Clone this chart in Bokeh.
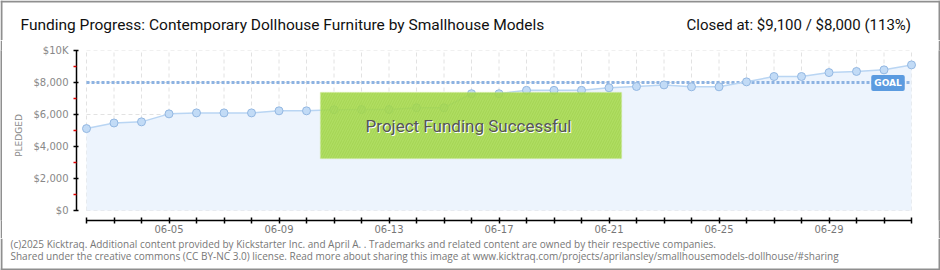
from math import pi
from bokeh.plotting import figure
from bokeh.layouts import column, row
from bokeh.models import Range1d, FixedTicker, Label, BoxAnnotation
from bokeh.embed import file_html
from bokeh.resources import INLINE

# ---------------- data ----------------
dates = ["06-02", "06-03", "06-04", "06-05", "06-06", "06-07", "06-08", "06-09",
         "06-10", "06-11", "06-12", "06-13", "06-14", "06-15", "06-16", "06-17",
         "06-18", "06-19", "06-20", "06-21", "06-22", "06-23", "06-24", "06-25",
         "06-26", "06-27", "06-28", "06-29", "06-30", "07-01", "07-02"]
pledged = [5120, 5470, 5540, 6040, 6100, 6100, 6100, 6230,
           6230, 6300, 6310, 6310, 6420, 6420, 7300, 7300,
           7510, 7510, 7510, 7670, 7750, 7850, 7730, 7730,
           8040, 8375, 8375, 8620, 8690, 8790, 9100]
goal = 8000
labeled_dates = ["06-05", "06-09", "06-13", "06-17", "06-21", "06-25", "06-29"]
y_ticks = [0, 2000, 4000, 6000, 8000, 10000]
y_minor_ticks = [1000, 3000, 5000, 7000, 9000]
y_tick_labels = ["$0", "$2,000", "$4,000", "$6,000", "$8,000", "$10K"]

title_text = "Funding Progress: Contemporary Dollhouse Furniture by Smallhouse Models"
closed_text = "Closed at:  $9,100 /  $8,000 (113%)"
footer1 = "(c)2025 Kicktraq. Additional content provided by Kickstarter Inc. and  April A. . Trademarks and related content are owned by their respective companies."
footer2 = "Shared under the creative commons (CC BY-NC 3.0) license. Read more about sharing this image at www.kicktraq.com/projects/aprilansley/smallhousemodels-dollhouse/#sharing"

BORDER = "#8f8f8f"
W, H = 940, 270
HEAD_H, MAIN_H = 40, 198
FOOT_H = H - HEAD_H - MAIN_H
PAD = 2

# ---------------- main chart helpers ----------------
x = list(range(len(dates)))
PX0, DX = 86.0, 27.5      # page pixel of first day, pixels per day
PY0, SY = 210.0, 0.016    # page pixel of $0, pixels per dollar


def dx(px):
    return (px - PX0) / DX


def dy(py):
    return (PY0 - py) / SY


def strip(w, h, y_top):
    """A figure whose frame is the whole canvas, in page pixel coordinates."""
    f = figure(width=w, height=h, output_backend="svg", toolbar_location=None,
               x_range=Range1d(0, w), y_range=Range1d(y_top + h, y_top),
               min_border=0, x_axis_type=None, y_axis_type=None, title=None)
    f.outline_line_color = None
    f.background_fill_color = "white"
    f.border_fill_color = "white"
    return f


# ---------------- header ----------------
head = strip(W, HEAD_H, 0)
head.segment(x0=[0, 1, W - 1], y0=[1, 0, 0], x1=[W, 1, W - 1], y1=[1, HEAD_H, HEAD_H],
             line_color=BORDER, line_width=2)
head.add_layout(Label(x=20, y=24, text=title_text, text_align="left",
                      text_baseline="middle", text_color="#111111", text_font="Roboto",
                      text_font_size="15.5px"))
head.add_layout(Label(x=918, y=24, text=closed_text, text_align="right",
                      text_baseline="middle", text_color="#111111", text_font="Roboto",
                      text_font_size="15px"))

# ---------------- footer ----------------
top_f = HEAD_H + MAIN_H
foot = strip(W, FOOT_H, top_f)
foot.segment(x0=[0, 1, W - 1], y0=[H - 1, top_f, top_f], x1=[W, 1, W - 1],
             y1=[H - 1, H, H], line_color=BORDER, line_width=2)
foot.add_layout(Label(x=10, y=243.5, text=footer1, text_align="left",
                      text_baseline="middle", text_color="#777777", text_font="Open Sans",
                      text_font_size="10px"))
foot.add_layout(Label(x=10, y=255.5, text=footer2, text_align="left",
                      text_baseline="middle", text_color="#777777", text_font="Open Sans",
                      text_font_size="10px"))


# ---------------- side pads (border) ----------------
def pad():
    f = figure(width=PAD, height=MAIN_H, output_backend="svg", toolbar_location=None,
               min_border=0, x_axis_type=None, y_axis_type=None, title=None)
    f.outline_line_color = None
    f.background_fill_color = BORDER
    f.border_fill_color = BORDER
    return f


# ---------------- main chart ----------------
p = figure(width=W - 2 * PAD, height=MAIN_H, output_backend="svg",
           toolbar_location=None, title=None,
           x_range=Range1d(dx(76), dx(918)), y_range=Range1d(dy(220), dy(50)),
           min_border_left=76 - PAD, min_border_right=W - 918 - PAD,
           min_border_top=50 - HEAD_H, min_border_bottom=HEAD_H + MAIN_H - 220)
p.outline_line_color = None
p.xgrid.visible = False
p.ygrid.visible = False
p.background_fill_color = "white"
p.border_fill_color = "white"

n = len(x)
p.segment(x0=x, y0=[y_ticks[0]] * n, x1=x, y1=[y_ticks[-1]] * n,
          line_color="#e2e2e2", line_width=1, line_dash="4 3")
p.segment(x0=[x[0]] * len(y_ticks), y0=y_ticks, x1=[x[-1]] * len(y_ticks), y1=y_ticks,
          line_color="#e2e2e2", line_width=1, line_dash="4 3")

p.varea(x=x, y1=[0] * n, y2=pledged, fill_color="#edf4fd")
p.line(x=[x[0], x[-1]], y=[goal, goal], line_color="#8db3e2", line_width=3,
       line_dash="3 2")
p.line(x=x, y=pledged, line_color="#b9d5f3", line_width=1.5)
p.scatter(x=x, y=pledged, size=8, fill_color="#c2dbf6", line_color="#94b8e2",
          line_width=1)

p.add_layout(Label(x=dx(887.5), y=dy(82.5), text="GOAL", text_align="center",
                   text_baseline="middle", text_color="white", text_font="DejaVu Sans",
                   text_font_size="9px", text_font_style="bold",
                   background_fill_color="#5b9be0", padding=3, border_radius=2))

p.add_layout(BoxAnnotation(left=dx(320), right=dx(621), top=dy(92), bottom=dy(158),
                           fill_color="#a6da4c", fill_alpha=0.88,
                           hatch_pattern="/", hatch_color="#93c83c", hatch_alpha=0.5,
                           hatch_scale=5, hatch_weight=0.8,
                           line_color="#c4e67e", line_width=1.5))
for off, col in [(1, "white"), (0, "#555555")]:
    p.add_layout(Label(x=dx(468), y=dy(125), x_offset=off, y_offset=-off,
                       text="Project Funding Successful", text_align="center",
                       text_baseline="middle", text_color=col, text_font="Roboto",
                       text_font_size="17px"))

ya = p.yaxis[0]
ya.ticker = FixedTicker(ticks=y_ticks, minor_ticks=y_minor_ticks)
ya.major_label_overrides = {t: l for t, l in zip(y_ticks, y_tick_labels)}
ya.bounds = (y_ticks[0], y_ticks[-1])
ya.axis_line_color = "black"
ya.axis_line_width = 1.5
ya.major_tick_line_color = "black"
ya.major_tick_line_width = 1.5
ya.major_tick_in = 2
ya.major_tick_out = 3
ya.minor_tick_line_color = "#e00000"
ya.minor_tick_line_width = 1.5
ya.minor_tick_in = 0
ya.minor_tick_out = 3
ya.major_label_text_font = "DejaVu Sans"
ya.major_label_text_font_size = "10px"
ya.major_label_text_color = "#888888"
ya.major_label_standoff = 5
ya.axis_label = "PLEDGED"
ya.axis_label_text_font = "DejaVu Sans"
ya.axis_label_text_font_size = "9px"
ya.axis_label_text_font_style = "normal"
ya.axis_label_text_color = "#888888"
ya.axis_label_standoff = 7

xa = p.xaxis[0]
major_idx = [i for i, d in enumerate(dates) if d in labeled_dates]
minor_idx = [i for i in x if i not in major_idx]
xa.ticker = FixedTicker(ticks=major_idx, minor_ticks=minor_idx)
xa.major_label_overrides = {i: dates[i] for i in major_idx}
xa.bounds = (x[0], x[-1])
xa.axis_line_color = "black"
xa.axis_line_width = 1.5
xa.major_tick_line_color = "black"
xa.major_tick_line_width = 1.5
xa.minor_tick_line_color = "black"
xa.minor_tick_line_width = 1.5
xa.major_tick_in = 3
xa.major_tick_out = 3
xa.minor_tick_in = 3
xa.minor_tick_out = 3
xa.major_label_text_font = "DejaVu Sans"
xa.major_label_text_font_size = "10px"
xa.major_label_text_color = "#777777"
xa.major_label_standoff = 1

layout = column(head, row(pad(), p, pad(), spacing=0), foot, spacing=0)
open("out.html", "w").write(file_html(layout, INLINE))
